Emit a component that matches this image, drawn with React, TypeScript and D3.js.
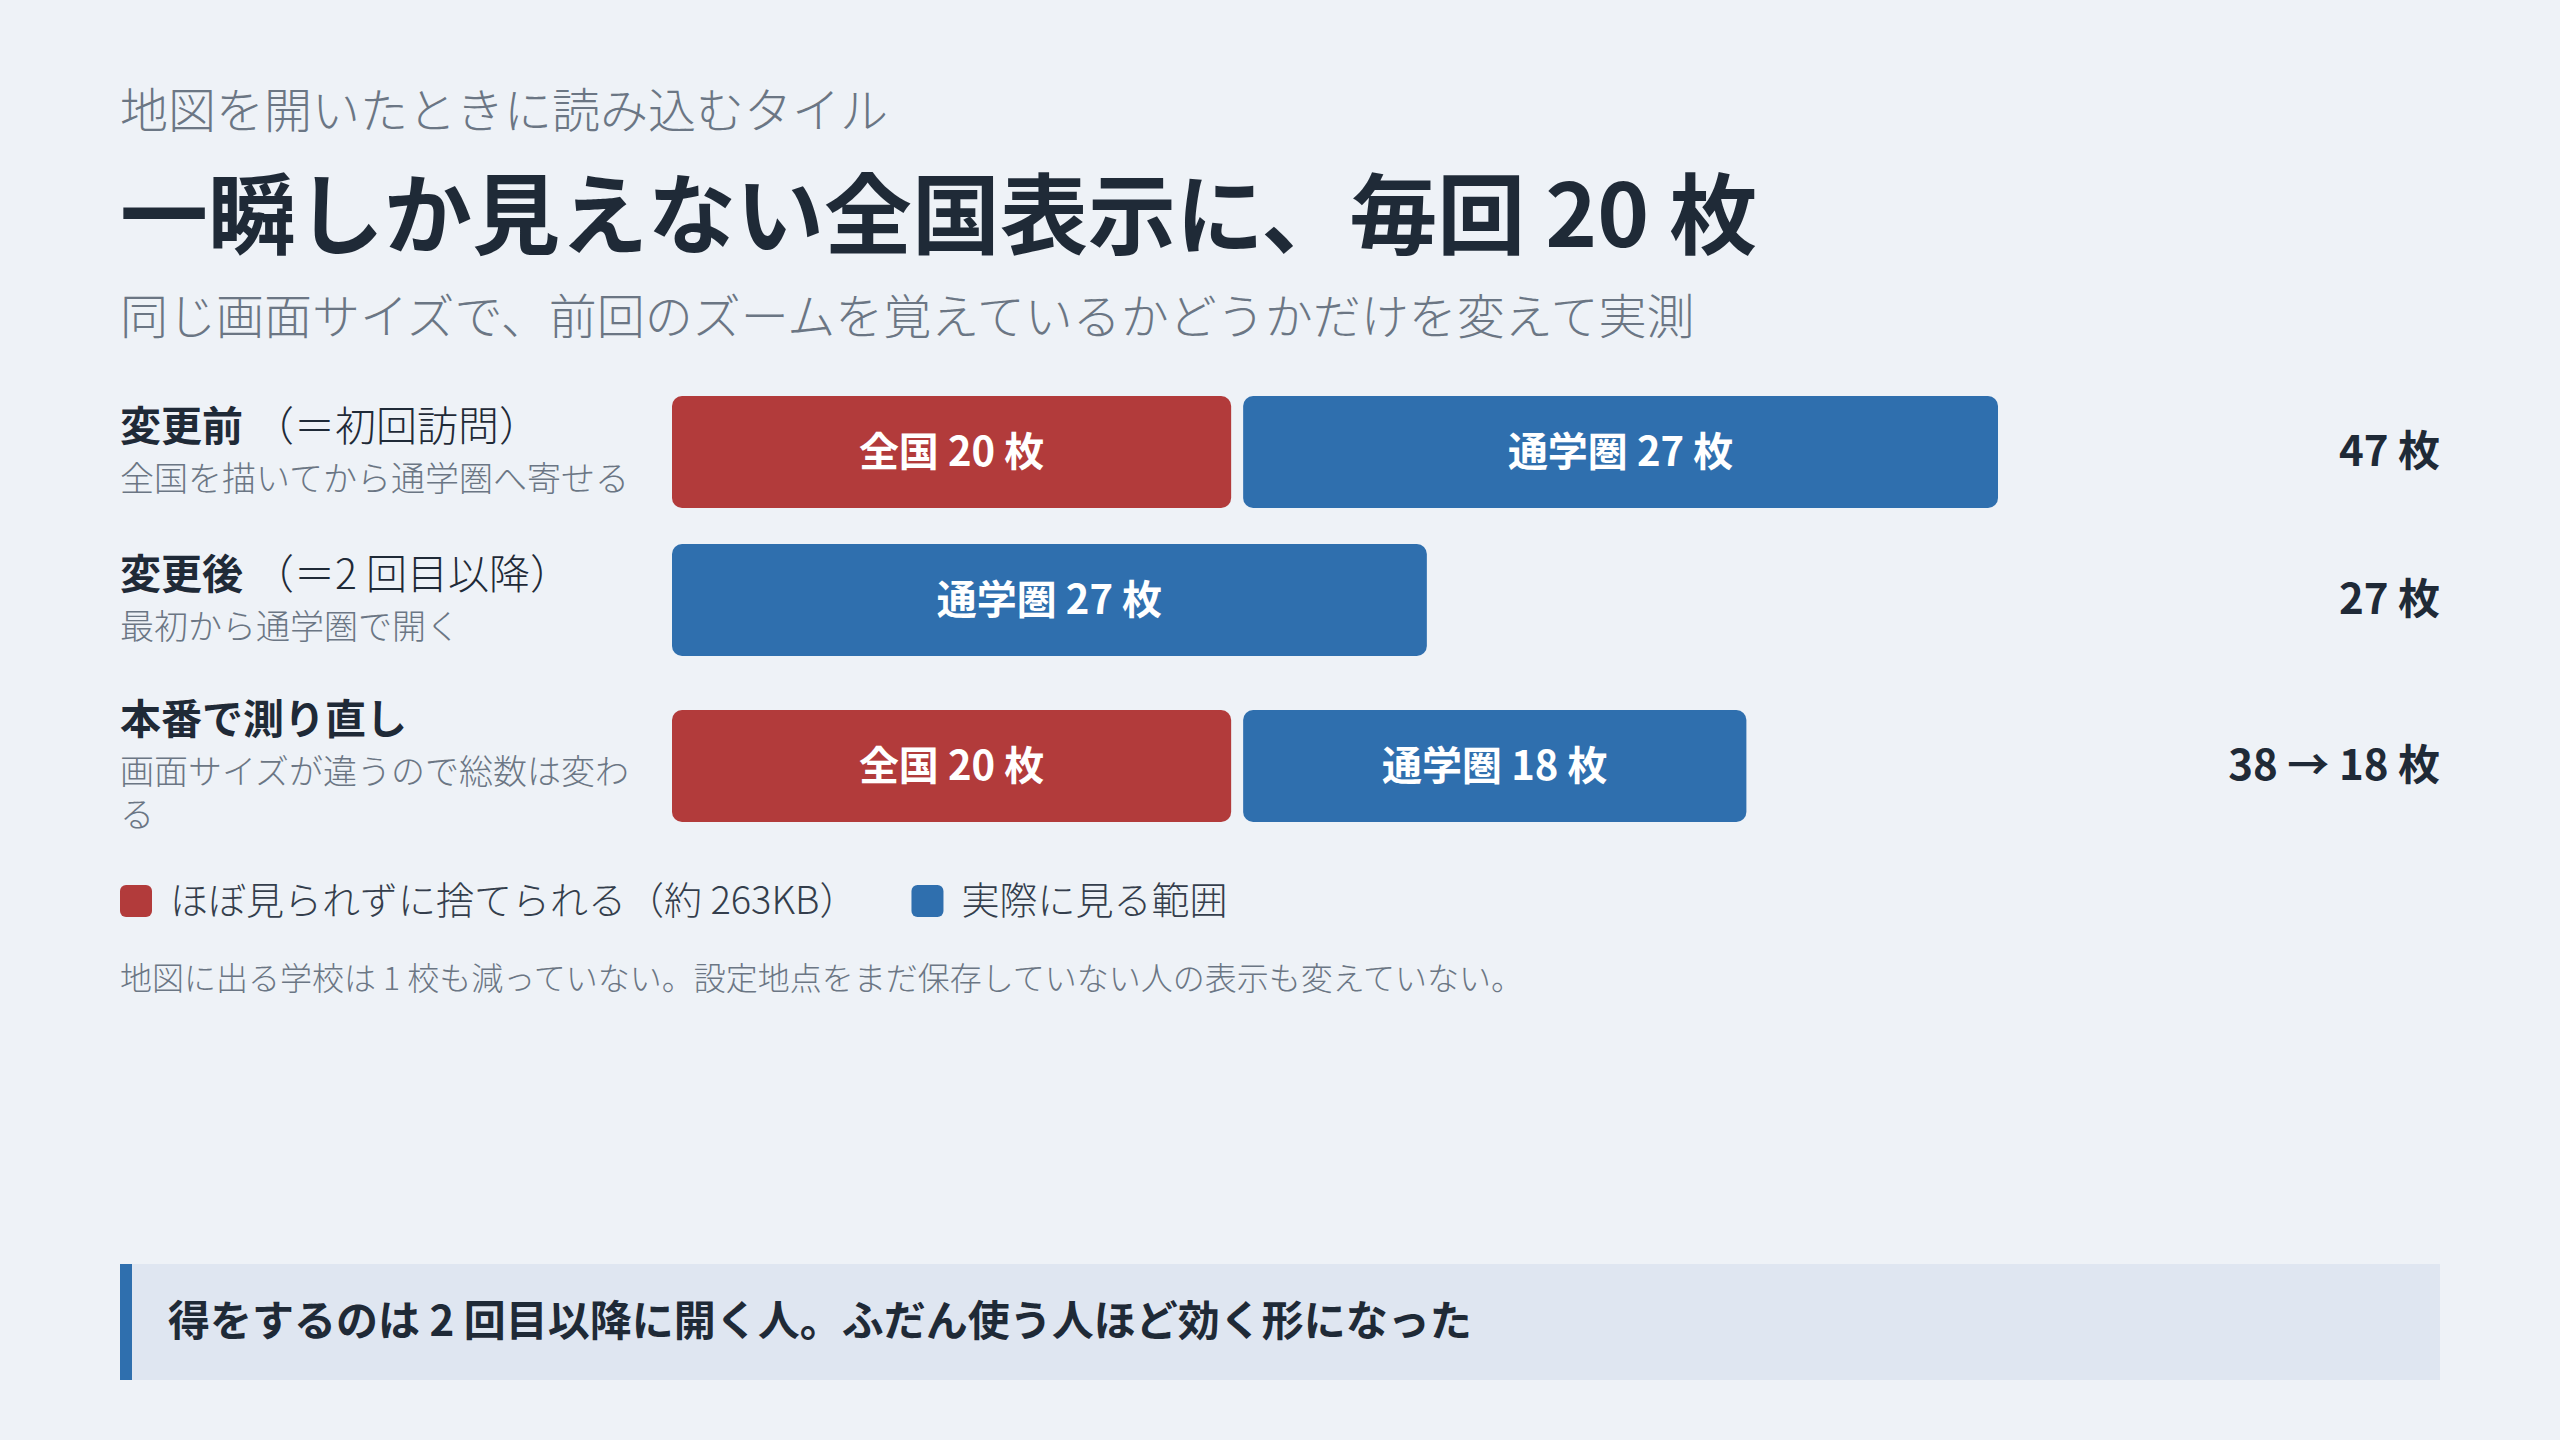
import React, { useEffect, useRef } from "react";
import * as d3 from "d3";

const kicker = "地図を開いたときに読み込むタイル";
const title = "一瞬しか見えない全国表示に、毎回 20 枚";
const subtitle = "同じ画面サイズで、前回のズームを覚えているかどうかだけを変えて実測";

const rowNames = ["変更前", "変更後", "本番で測り直し"];
const rowNotes = ["（＝初回訪問）", "（＝2 回目以降）", ""];
const rowDescs = [["全国を描いてから通学圏へ寄せる"], ["最初から通学圏で開く"], ["画面サイズが違うので総数は変わ", "る"]];
const segmentNames = ["全国", "通学圏"];
const nationwideTiles = [20, 0, 20];
const commuteTiles = [27, 27, 18];
const totalLabels = ["47 枚", "27 枚", "38 → 18 枚"];
const unit = " 枚";

const legendLabels = ["ほぼ見られずに捨てられる（約 263KB）", "実際に見る範囲"];
const footnote = "地図に出る学校は 1 校も減っていない。設定地点をまだ保存していない人の表示も変えていない。";
const callout = "得をするのは 2 回目以降に開く人。ふだん使う人ほど効く形になった";

const W = 2560;
const H = 1440;
const FONT = "'Noto Sans CJK JP', 'Noto Sans', sans-serif";
const BG = "#eef2f7";
const RED = "#b23b3b";
const BLUE = "#2f6fae";
const DARK = "#1f2a37";
const GRAY = "#6b7684";

export default function App() {
  const ref = useRef<SVGSVGElement | null>(null);

  useEffect(() => {
    const svg = d3.select(ref.current);
    svg.selectAll("*").remove();
    svg.append("rect").attr("width", W).attr("height", H).attr("fill", BG);

    const left = 120;
    const right = 2440;

    svg.append("text").attr("x", left).attr("y", 128).attr("font-size", 48).attr("font-weight", 300)
      .attr("fill", GRAY).text(kicker);
    svg.append("text").attr("x", left).attr("y", 247).attr("font-size", 88).attr("font-weight", 700)
      .attr("fill", DARK).text(title);
    svg.append("text").attr("x", left).attr("y", 334).attr("font-size", 48).attr("font-weight", 300)
      .attr("fill", GRAY).text(subtitle);

    const barX0 = 672;
    const gap = 12;
    const barH = 112;
    const rowGap = 36;
    const maxTotal = d3.max(nationwideTiles.map((v, i) => v + commuteTiles[i])) as number;
    const x = d3.scaleLinear().domain([0, maxTotal]).range([0, 1314]);

    let yTop = 396;
    rowNames.forEach((name, i) => {
      const nDesc = rowDescs[i].length;
      const rowH = Math.max(barH, 60 + 44 * nDesc);
      const cy = yTop + rowH / 2;
      const span = 50 + 43 * (nDesc - 1);
      const boldBase = cy - span / 2 + 14;

      const lab = svg.append("text").attr("x", left).attr("y", boldBase).attr("font-size", 41).attr("fill", DARK);
      lab.append("tspan").attr("font-weight", 700).text(name);
      if (rowNotes[i]) lab.append("tspan").attr("dx", 10).attr("font-weight", 300).text(rowNotes[i]);
      rowDescs[i].forEach((line, j) => {
        svg.append("text").attr("x", left).attr("y", boldBase + 50 + 43 * j).attr("font-size", 34)
          .attr("font-weight", 300).attr("fill", GRAY).text(line);
      });

      const segs = [
        { name: segmentNames[0], v: nationwideTiles[i], color: RED },
        { name: segmentNames[1], v: commuteTiles[i], color: BLUE },
      ].filter((s) => s.v > 0);
      const barY = cy - barH / 2;
      let cum = 0;
      segs.forEach((s, k) => {
        const sx = barX0 + x(cum) + k * gap;
        const sw = x(s.v);
        svg.append("rect").attr("x", sx).attr("y", barY).attr("width", sw).attr("height", barH)
          .attr("rx", 10).attr("fill", s.color);
        svg.append("text").attr("x", sx + sw / 2).attr("y", cy + 14).attr("text-anchor", "middle")
          .attr("font-size", 40).attr("font-weight", 700).attr("fill", "#ffffff")
          .text(`${s.name} ${s.v}${unit}`);
        cum += s.v;
      });

      svg.append("text").attr("x", right).attr("y", cy + 14).attr("text-anchor", "end")
        .attr("font-size", 42).attr("font-weight", 700).attr("fill", DARK).text(totalLabels[i]);

      yTop += rowH + rowGap;
    });

    // legend
    let lx = left;
    const legendColors = [RED, BLUE];
    legendLabels.forEach((lbl, i) => {
      svg.append("rect").attr("x", lx).attr("y", 885).attr("width", 32).attr("height", 32)
        .attr("rx", 6).attr("fill", legendColors[i]);
      const t = svg.append("text").attr("x", lx + 50).attr("y", 914).attr("font-size", 38)
        .attr("font-weight", 300).attr("fill", "#343e4c").text(lbl);
      const tw = (t.node() as SVGTextElement).getComputedTextLength();
      lx = lx + 50 + tw + 54;
    });

    svg.append("text").attr("x", left).attr("y", 990).attr("font-size", 32).attr("font-weight", 300)
      .attr("fill", GRAY).text(footnote);

    svg.append("rect").attr("x", left).attr("y", 1264).attr("width", right - left).attr("height", 116)
      .attr("fill", "#dfe6f1");
    svg.append("rect").attr("x", left).attr("y", 1264).attr("width", 12).attr("height", 116)
      .attr("fill", BLUE);
    svg.append("text").attr("x", 168).attr("y", 1336).attr("font-size", 42).attr("font-weight", 700)
      .attr("fill", DARK).text(callout);
  }, []);

  return (
    <div style={{ position: "fixed", left: 0, top: 0, width: W, height: H, background: BG }}>
      <svg ref={ref} width={W} height={H} style={{ display: "block", fontFamily: FONT }} />
    </div>
  );
}
